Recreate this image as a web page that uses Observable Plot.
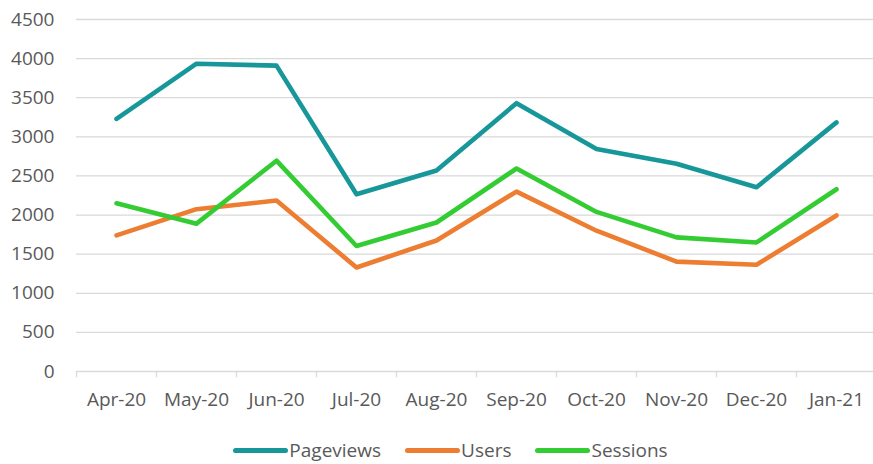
<!DOCTYPE html>
<html>
<head>
<meta charset="utf-8">
<script src="https://cdn.jsdelivr.net/npm/d3@7"></script>
<script src="https://cdn.jsdelivr.net/npm/@observablehq/plot@0.6"></script>
<style>
  html, body { margin: 0; padding: 0; background: #ffffff; }
  body { width: 873px; height: 464px; overflow: hidden; font-family: "Open Sans", sans-serif; }
  #legend { display: flex; justify-content: center; align-items: center; height: 40px; padding-left: 28px; box-sizing: border-box; color: #595959; font-size: 19px; }
  .item { display: flex; align-items: center; margin: 0 12px; }
  .sw { display: inline-block; width: 55px; height: 5px; border-radius: 3px; margin-right: 1px; }
</style>
</head>
<body>
<div id="chart"></div>
<div id="legend"></div>
<script>
const months = ["Apr-20", "May-20", "Jun-20", "Jul-20", "Aug-20", "Sep-20", "Oct-20", "Nov-20", "Dec-20", "Jan-21"];
const pageviews = [3230, 3935, 3910, 2265, 2570, 3430, 2845, 2655, 2355, 3185];
const users = [1740, 2075, 2185, 1330, 1675, 2300, 1800, 1405, 1365, 1995];
const sessions = [2150, 1890, 2695, 1605, 1905, 2595, 2040, 1715, 1650, 2330];
const seriesNames = ["Pageviews", "Users", "Sessions"];
const seriesColors = ["#17979A", "#ED7D31", "#33CC33"];
const yTicks = [0, 500, 1000, 1500, 2000, 2500, 3000, 3500, 4000, 4500];

const seriesValues = [pageviews, users, sessions];
const data = [];
seriesNames.forEach((name, i) => {
  months.forEach((m, j) => data.push({series: name, month: m, value: seriesValues[i][j]}));
});

const chart = Plot.plot({
  width: 873,
  height: 430,
  marginTop: 19,
  marginBottom: 59,
  marginLeft: 76,
  marginRight: -3,
  style: {fontFamily: "'Open Sans', sans-serif", fontSize: "19px", color: "#595959", background: "#ffffff", overflow: "hidden"},
  x: {type: "point", domain: months, padding: 0.5, label: null},
  y: {domain: [0, 4500], label: null},
  color: {domain: seriesNames, range: seriesColors},
  marks: [
    Plot.ruleY(yTicks, {stroke: "#d9d9d9", strokeWidth: 1.3}),
    Plot.ruleX(months, {x: d => d, dx: -40, y1: 0, y2: -80, stroke: "#d9d9d9", strokeWidth: 1.3}),
    Plot.axisY(yTicks, {tickSize: 0, tickPadding: 22, fontSize: 19, fill: "#595959", label: null, tickFormat: d => String(d)}),
    Plot.axisX({tickSize: 0, tickPadding: 21, fontSize: 19, fill: "#595959", label: null}),
    Plot.line(data, {x: "month", y: "value", z: "series", stroke: "series", strokeWidth: 4.6, strokeLinejoin: "round", strokeLinecap: "round"})
  ]
});
document.getElementById("chart").appendChild(chart);

const legend = document.getElementById("legend");
seriesNames.forEach((name, i) => {
  const item = document.createElement("div");
  item.className = "item";
  const sw = document.createElement("span");
  sw.className = "sw";
  sw.style.background = seriesColors[i];
  const label = document.createElement("span");
  label.textContent = name;
  item.appendChild(sw);
  item.appendChild(label);
  legend.appendChild(item);
});
</script>
</body>
</html>
